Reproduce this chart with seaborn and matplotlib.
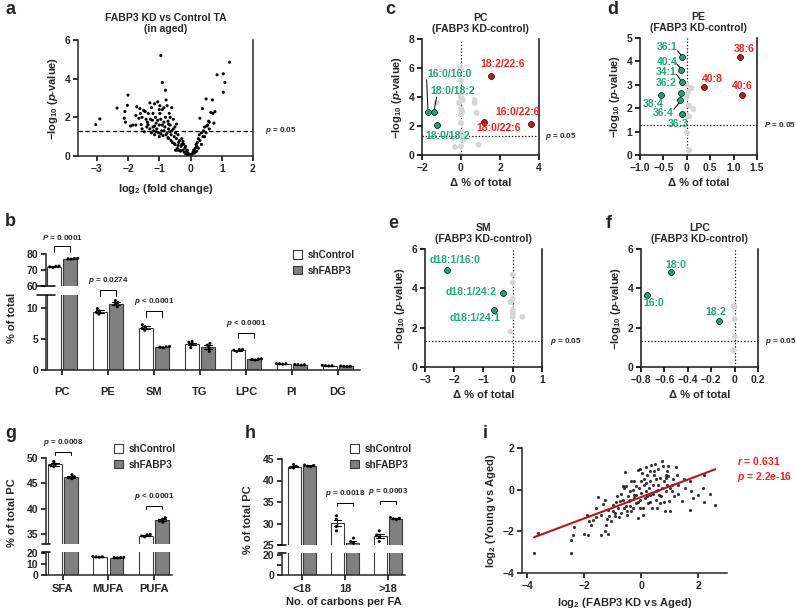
import numpy as np
import pandas as pd
import matplotlib
matplotlib.use("Agg")
import matplotlib.pyplot as plt
from matplotlib.patches import Patch
from matplotlib.ticker import FuncFormatter
import seaborn as sns

W, H = 796, 612

# ── Data ──────────────────────────────────────────────────────────────────
# a: volcano, FABP3 KD vs control TA (log2 fold change, -log10 p)
a_points = [
    (-3.03, 1.62), (-2.9, 1.92), (-2.35, 2.48), (-2.0, 3.15), (-2.02, 2.62), (-2.1, 2.3),
    (-2.12, 1.95), (-2.08, 1.75), (-1.85, 1.6), (-1.75, 2.1), (-1.72, 2.55), (-1.62, 2.45),
    (-1.65, 1.95), (-1.55, 2.0), (-1.58, 1.62), (-1.5, 2.35), (-1.45, 2.3), (-1.42, 1.9),
    (-1.4, 1.5), (-1.36, 1.62), (-1.35, 2.2), (-1.38, 1.75),
    (-1.3, 2.75), (-1.25, 2.5), (-1.22, 1.85), (-1.2, 1.5), (-1.18, 1.3), (-1.15, 1.1),
    (-1.12, 2.0), (-1.1, 1.7), (-1.08, 1.4), (-1.05, 2.8), (-1.02, 1.2), (-1.0, 1.6),
    (-0.98, 2.2), (-0.95, 1.9), (-0.95, 5.2), (-0.9, 3.8), (-0.92, 1.3), (-0.9, 2.4),
    (-0.88, 1.05), (-0.85, 1.75), (-0.82, 1.5), (-0.8, 2.0), (-0.8, 3.4), (-0.78, 2.9),
    (-0.75, 1.2), (-0.75, 2.6), (-0.72, 1.8), (-0.7, 0.9), (-0.7, 1.4), (-0.68, 2.2),
    (-0.65, 1.6), (-0.62, 1.1), (-0.6, 2.5), (-0.6, 1.3), (-0.58, 0.7), (-0.55, 1.9),
    (-0.52, 1.0), (-0.5, 1.5), (-0.5, 0.6), (-0.48, 1.2), (-0.45, 0.9), (-0.42, 0.4),
    (-0.4, 1.1), (-0.38, 0.7), (-0.35, 0.3), (-0.35, 0.8), (-0.3, 0.5), (-0.28, 0.9),
    (-0.25, 0.3), (-0.22, 0.6), (-0.2, 0.2), (-0.18, 0.4), (-0.15, 0.1), (-0.12, 0.25),
    (-0.1, 0.05), (-0.08, 0.15), (-0.05, 0.02), (-0.03, 0.08), (0.0, 0.0),
    (-1.3, 1.4), (-1.28, 1.9), (-1.0, 2.4), (-0.85, 2.5), (-1.15, 1.55), (-0.95, 1.15),
    (-0.65, 2.0), (-0.55, 1.4), (-0.45, 1.65), (-0.4, 0.55), (-1.2, 2.2), (-1.1, 1.25),
    (-1.05, 1.85), (-0.9, 1.6), (-0.85, 1.3), (-0.78, 1.1), (-0.7, 1.65), (-0.66, 1.25),
    (-0.62, 0.8), (-0.52, 0.65), (-0.48, 0.3), (-0.44, 0.3), (-0.38, 0.3), (-0.32, 0.25),
    (-0.28, 0.6), (-0.24, 0.75), (-0.16, 0.5), (-0.1, 0.3), (-1.15, 2.7), (-0.98, 2.6),
    (-1.6, 2.2), (-1.75, 1.6), (-1.92, 1.55), (-1.55, 1.4), (-1.48, 1.25), (-1.25, 1.2),
    (-1.0, 1.0), (-0.72, 0.95),
    (0.02, 0.05), (0.05, 0.1), (0.08, 0.2), (0.1, 0.3), (0.12, 0.15), (0.15, 0.4),
    (0.18, 0.6), (0.2, 0.5), (0.22, 0.7), (0.25, 0.9), (0.28, 1.1), (0.3, 0.8),
    (0.3, 1.95), (0.35, 1.2), (0.38, 2.45), (0.4, 1.0), (0.42, 1.3), (0.45, 1.5),
    (0.5, 2.95), (0.5, 1.2), (0.55, 1.6), (0.58, 1.8), (0.6, 1.4), (0.65, 2.25),
    (0.7, 2.9), (0.72, 2.2), (0.75, 1.7), (0.78, 2.3), (0.85, 4.2), (1.05, 4.25),
    (1.05, 3.3), (1.1, 3.8), (1.25, 4.85), (0.2, 0.25), (0.25, 0.4), (0.35, 0.6),
    (0.45, 1.0), (0.52, 1.55), (0.6, 1.75), (0.15, 0.2),
]
a_fc, a_logp = map(list, zip(*a_points))

# b: lipid classes, % of total (4 replicates per group)
groups = ["shControl", "shFABP3"]
b_classes = ["PC", "PE", "SM", "TG", "LPC", "PI", "DG"]
b_ctrl = [[71.6, 72.0, 72.3, 72.5], [9.0, 9.3, 9.5, 9.9], [6.4, 6.7, 7.0, 7.3],
          [3.6, 4.1, 4.5, 4.6], [3.0, 3.2, 3.3, 3.3], [0.95, 1.0, 1.05, 1.0],
          [0.65, 0.7, 0.75, 0.7]]
b_kd = [[76.8, 77.0, 77.2, 77.3], [10.2, 10.6, 10.9, 11.2], [3.6, 3.7, 3.75, 3.8],
        [3.0, 3.6, 4.0, 4.3], [1.6, 1.7, 1.75, 1.8], [0.8, 0.85, 0.9, 0.85],
        [0.55, 0.6, 0.65, 0.6]]

# c-f: species volcano plots (delta % of total, -log10 p)
c_gray_x = [0, 0, 0, 0.1, -0.1, 0, 0, 0.7, 0.7, 0.8, 0, 0, 0.1, 0, -0.3, 0.9, 0, 0.1, -0.05, 0.05, -1.25]
c_gray_y = [6.0, 5.1, 4.0, 3.8, 3.6, 3.2, 2.8, 3.8, 3.6, 2.9, 2.2, 1.6, 1.05, 0.6, 0.55, 0.7, 0.0, 1.3, 4.2, 3.0, 3.6]
c_dn_x = [-1.68, -1.39, -1.25]
c_dn_y = [3.0, 3.0, 2.05]
c_up_x = [1.52, 1.2, 3.6]
c_up_y = [5.45, 2.25, 2.12]

d_gray_x = [0, 0.1, 0.03, 0, 0.05, 0.14, 0, 0.05, 0, 0.05, -0.05]
d_gray_y = [3.0, 2.86, 2.7, 2.5, 2.1, 1.96, 1.7, 1.65, 0.96, 0.2, 1.78]
d_dn_x = [-0.107, -0.12, -0.11, -0.13, -0.14, -0.55, -0.11]
d_dn_y = [4.19, 3.64, 3.1, 2.67, 2.33, 2.56, 1.76]
d_up_x = [1.14, 0.36, 1.18]
d_up_y = [4.17, 2.89, 2.57]

e_gray_x = [0, 0, -0.08, 0, 0, 0, 0, 0.33, -0.08]
e_gray_y = [4.7, 4.3, 3.3, 3.45, 2.9, 2.7, 2.55, 2.55, 1.8]
e_dn_x = [-2.24, -0.32, -0.64]
e_dn_y = [4.92, 3.76, 2.91]

f_gray_x = [-0.01, 0.0, 0.0, 0.0, -0.01]
f_gray_y = [3.1, 3.05, 2.45, 1.55, 0.85]
f_dn_x = [-0.75, -0.545, -0.13]
f_dn_y = [3.66, 4.81, 2.36]

# g: PC by saturation, h: PC by chain length (% of total PC)
g_classes = ["SFA", "MUFA", "PUFA"]
g_ctrl = [[48.3, 48.5, 48.8, 49.3], [16.3, 16.5, 16.8, 16.6], [34.4, 34.6, 34.8, 34.9]]
g_kd = [[45.9, 46.1, 46.3, 46.7], [15.7, 15.9, 16.1, 16.0], [37.3, 37.5, 37.9, 38.2]]
h_classes = ["<18", "18", ">18"]
h_ctrl = [[42.9, 43.0, 43.3, 43.7], [28.3, 29.3, 31.0, 31.8], [25.8, 26.9, 27.3, 28.3]]
h_kd = [[43.2, 43.3, 43.5, 43.6], [25.5, 25.8, 26.6, 23.7], [30.9, 31.1, 31.2, 31.4]]

# i: correlation of KD vs aged and young vs aged
i_points = [
    (-3.76, -3.04), (-3.61, -2.08), (-2.47, -3.04), (-2.47, -2.4), (-2.41, -2.16),
    (-2.35, -1.81), (-2.0, -2.13), (-1.88, -2.16), (-1.92, -1.2), (-1.85, -1.52),
    (-1.7, -1.44), (-1.76, -1.68), (-1.59, -1.33), (-1.53, -0.37), (-1.41, -2.16),
    (-1.29, -2.0), (-1.24, -1.68), (-1.18, -2.13), (-1.35, -0.69), (-1.29, -0.48),
    (-1.18, -0.96), (-1.12, -1.28), (-1.06, -1.52), (-1.0, -0.72), (-0.94, -1.12),
    (-0.91, -1.28), (-0.86, -0.32), (-0.82, -0.88), (-0.76, -0.56), (-0.71, -1.12),
    (-0.65, -0.48), (-0.61, 0.08), (-0.59, 0.85), (-0.55, -0.8), (-0.51, -1.04),
    (-0.47, -0.32), (-0.44, -0.56), (-0.41, -0.08), (-0.38, -0.8), (-0.35, 0.4),
    (-0.29, -0.88), (-0.27, -0.4), (-0.24, 0.4), (-0.2, -0.64), (-0.18, -0.24),
    (-0.12, 0.96), (-0.12, -1.36), (-0.08, 0.08), (-0.06, -0.48), (-0.04, -0.88),
    (0.0, -0.16), (0.04, 0.8), (0.06, -1.2), (0.08, 0.24), (0.12, -0.4),
    (0.15, -0.08), (0.18, 0.32), (0.2, 0.72), (0.24, -0.64), (0.27, 0.08),
    (0.29, -0.24), (0.32, 0.4), (0.35, 1.2), (0.39, -0.88), (0.41, 0.24),
    (0.44, 0.91), (0.47, 1.23), (0.51, -0.08), (0.53, -0.48), (0.59, 0.24),
    (0.62, -0.24), (0.65, -0.64), (0.67, 0.56), (0.71, 0.08), (0.74, 1.36),
    (0.76, 1.12), (0.79, 0.4), (0.82, -1.04), (0.86, -0.08), (0.88, 0.72),
    (0.91, 0.24), (0.94, 0.64), (0.98, -0.56), (1.0, -1.04), (1.06, 0.24),
    (1.09, -0.08), (1.14, -0.32), (1.24, 0.72), (1.29, 0.24), (1.41, -0.56),
    (1.53, 0.08), (1.71, 0.4), (1.71, -0.96), (1.73, -0.08), (1.82, -0.4),
    (2.0, -0.24), (2.15, 0.08), (2.18, 0.69), (2.2, -0.59), (2.41, -0.21),
    (2.59, -0.72), (-0.53, 0.16),
    (-0.9, -0.6), (-0.7, -0.2), (-0.5, -1.2), (-0.3, 0.0), (-0.1, -0.6), (0.1, 0.5),
    (0.3, 0.9), (0.5, 0.5), (0.7, -0.3), (0.9, 0.9), (1.1, 0.5), (-0.6, -0.9),
    (-0.4, -0.5), (-0.2, 0.2), (0.0, 0.4), (0.2, -0.3), (0.4, -0.2), (0.6, 0.0),
    (0.8, -0.6), (1.0, 0.1), (-1.0, -1.0), (-0.8, -1.3), (-1.4, -1.2), (-1.6, -0.9),
    (-1.2, -1.4), (0.15, 1.1), (0.45, 0.7), (-0.05, 1.0), (0.55, -0.9), (1.3, -0.2),
    (1.5, 0.5), (-0.35, -1.0), (0.05, -0.9), (0.3, -0.6), (0.85, 0.55), (-0.65, 0.2),
    (-0.25, -0.25), (1.2, 1.1), (0.95, 1.15), (0.6, 1.0),
]
i_kd, i_young = map(list, zip(*i_points))

GREEN = "#1ba673"
GREEN_TXT = "#1fa774"
RED = "#c41a1a"
RED_TXT = "#ff1f1f"
GRAY_PT = "#d6d6d6"
BAR_GRAY = "#808080"

# ── Style ─────────────────────────────────────────────────────────────────
sns.set_style("ticks")
plt.rcParams["font.family"] = ["Liberation Sans", "DejaVu Sans"]
plt.rcParams["font.weight"] = "bold"
plt.rcParams["axes.labelweight"] = "bold"
plt.rcParams["mathtext.fontset"] = "custom"
plt.rcParams["mathtext.rm"] = "Liberation Sans:bold"
plt.rcParams["mathtext.it"] = "Liberation Sans:italic:bold"
plt.rcParams["mathtext.bf"] = "Liberation Sans:bold"

FS = 7.5
LFS = 8
SMALL = 5.8
YLAB = r"$-$log$_{10}$ ($p$-value)"


def px_axes(fig, l, t, r, b):
    return fig.add_axes([l / W, 1 - b / H, (r - l) / W, (b - t) / H])


def style(ax, right=False, lw=1.1):
    ax.spines["top"].set_visible(False)
    ax.spines["right"].set_visible(right)
    for s in ax.spines.values():
        s.set_linewidth(lw)
    ax.tick_params(width=lw, length=3.5, labelsize=FS, pad=2, color="black")


def tick_fmt(v, pos):
    if abs(v) < 1e-9:
        return "0"
    s = f"{v:g}" if float(v).is_integer() else f"{v:.1f}"
    return s.replace("-", "\u2212")


def volcano(ax, gx, gy, dx, dy, ux, uy, xlim, ylim, xticks, yticks, title, plabel, px):
    ax.axvline(0, color="black", ls=":", lw=0.9, zorder=1)
    ax.axhline(1.3, color="black", ls=":", lw=0.9, zorder=1)
    sns.scatterplot(x=gx, y=gy, ax=ax, color=GRAY_PT, s=18, edgecolor="none", zorder=2)
    if dx:
        sns.scatterplot(x=dx, y=dy, ax=ax, color=GREEN, s=18, edgecolor="black", linewidth=0.5, zorder=3)
    if ux:
        sns.scatterplot(x=ux, y=uy, ax=ax, color=RED, s=18, edgecolor="black", linewidth=0.5, zorder=3)
    ax.set_xlim(*xlim)
    ax.set_ylim(*ylim)
    ax.set_xticks(xticks)
    ax.set_yticks(yticks)
    ax.xaxis.set_major_formatter(FuncFormatter(tick_fmt))
    ax.yaxis.set_major_formatter(FuncFormatter(tick_fmt))
    style(ax, right=True, lw=1.2)
    ax.set_xlabel("\u0394 % of total", fontsize=LFS, labelpad=4)
    ax.set_ylabel(YLAB, fontsize=LFS, labelpad=3)
    ax.set_title(title, fontsize=FS, fontweight="bold", pad=5, linespacing=1.1)
    ax.text(px, 1.3, plabel, transform=ax.get_yaxis_transform(), fontsize=SMALL,
            va="center", ha="left")


def lab(ax, x, y, s, color, ha="left", va="center"):
    ax.text(x, y, s, color=color, fontsize=FS, fontweight="bold", ha=ha, va=va, zorder=4)


def leader(ax, p0, p1):
    ax.plot([p0[0], p1[0]], [p0[1], p1[1]], color="black", lw=0.7, zorder=2)


def long_df(cats, ctrl, kd):
    rows = []
    for c, a, b in zip(cats, ctrl, kd):
        rows += [(c, groups[0], v) for v in a]
        rows += [(c, groups[1], v) for v in b]
    return pd.DataFrame(rows, columns=["cat", "grp", "val"])


def broken_bars(ax_t, ax_b, df, order, xlim, ylim_t, ylim_b, yt_t, yt_b, yl_b=None, xpad=8):
    for ax in (ax_t, ax_b):
        sns.barplot(data=df, x="cat", y="val", hue="grp", order=order, hue_order=groups,
                    palette=["white", BAR_GRAY], edgecolor="#3a3a3a", linewidth=0.8,
                    width=0.72, gap=0.15, errorbar="se", capsize=0.35,
                    err_kws={"color": "black", "linewidth": 0.8}, legend=False, ax=ax)
        sns.swarmplot(data=df, x="cat", y="val", hue="grp", order=order, hue_order=groups,
                      dodge=True, palette=["black", "black"], size=2.2, legend=False, ax=ax)
        ax.set_xlim(*xlim)
        ax.set_xlabel("")
        ax.set_ylabel("")
        style(ax)
    ax_t.set_ylim(*ylim_t)
    ax_t.set_yticks(yt_t)
    ax_t.spines["bottom"].set_visible(False)
    ax_t.tick_params(axis="x", bottom=False, labelbottom=False)
    ax_b.set_ylim(*ylim_b)
    ax_b.set_yticks(yt_b)
    if yl_b is not None:
        ax_b.set_yticklabels(yl_b)
    ax_b.tick_params(axis="x", pad=xpad, labelsize=LFS)
    # break marks on the y axis
    for ax, yy in ((ax_t, 0), (ax_b, 1)):
        ax.plot([-0.03, 0.03], [yy, yy], transform=ax.transAxes, color="black",
                lw=1.1, clip_on=False)


def bracket(ax, xc, y, drop, text, dx=0.18):
    ax.plot([xc - dx, xc - dx, xc + dx, xc + dx], [y - drop, y, y, y - drop],
            color="black", lw=0.7, clip_on=False)
    ax.annotate(text, (xc, y), xytext=(0, 3), textcoords="offset points", ha="center",
                va="bottom", fontsize=SMALL, annotation_clip=False)


def bar_legend(fig, x, y):
    handles = [Patch(facecolor="white", edgecolor="#3a3a3a", lw=0.8),
               Patch(facecolor=BAR_GRAY, edgecolor="#3a3a3a", lw=0.8)]
    fig.legend(handles, groups, loc="upper left", bbox_to_anchor=(x / W, 1 - y / H),
               frameon=False, fontsize=7.2, handlelength=0.9, handleheight=0.9,
               handletextpad=0.6, labelspacing=0.55, borderpad=0, borderaxespad=0)


fig = plt.figure(figsize=(W / 100, H / 100), dpi=100)

# ── a ─────────────────────────────────────────────────────────────────────
ax = px_axes(fig, 78, 40, 253, 156)
ax.axhline(1.3, color="black", ls=(0, (3.5, 2)), lw=0.9, zorder=1)
sns.scatterplot(x=a_fc, y=a_logp, ax=ax, color="black", s=5, edgecolor="none", zorder=2)
ax.set_xlim(-3.6, 2.0)
ax.set_ylim(0, 6)
ax.set_xticks([-3, -2, -1, 0, 1, 2])
ax.set_yticks([0, 2, 4, 6])
ax.xaxis.set_major_formatter(FuncFormatter(tick_fmt))
style(ax, right=True, lw=1.1)
ax.set_xlabel(r"log$_2$ (fold change)", fontsize=LFS, labelpad=6)
ax.set_ylabel(YLAB, fontsize=LFS, labelpad=3)
ax.set_title("FABP3 KD vs Control TA\n(in aged)", fontsize=FS, fontweight="bold", pad=6,
             linespacing=1.1)
ax.text(1.07, 1.3, r"$p$ = 0.05", transform=ax.get_yaxis_transform(), fontsize=SMALL,
        va="center")

# ── b ─────────────────────────────────────────────────────────────────────
bt = px_axes(fig, 46, 254, 360, 286)
bb = px_axes(fig, 46, 295, 360, 370)
broken_bars(bt, bb, long_df(b_classes, b_ctrl, b_kd), b_classes, (-0.35, 6.48),
            (60, 80), (0, 12.1), [60, 70, 80], [0, 5, 10], xpad=9)
bracket(bt, 0, 85, 3.8, r"$P$ = 0.0001")
bracket(bb, 1, 12.9, 1.0, r"$p$ = 0.0274")
bracket(bb, 2, 9.5, 0.9, r"$p$ < 0.0001")
bracket(bb, 4, 6.0, 0.8, r"$p$ < 0.0001")
bar_legend(fig, 293, 250)
fig.text(12 / W, 1 - 318 / H, "% of total", rotation=90, ha="center", va="center", fontsize=LFS)

# ── c ─────────────────────────────────────────────────────────────────────
ax = px_axes(fig, 422, 39, 539, 155)
volcano(ax, c_gray_x, c_gray_y, c_dn_x, c_dn_y, c_up_x, c_up_y, (-2, 4), (0, 8),
        [-2, 0, 2, 4], [0, 2, 4, 6, 8], "PC\n(FABP3 KD-control)", r"$p$ = 0.05", 1.05)
lab(ax, -1.74, 5.6, "16:0/16:0", GREEN_TXT)
leader(ax, (-1.76, 5.2), (-1.70, 3.2))
lab(ax, -1.59, 4.43, "18:0/18:2", GREEN_TXT)
leader(ax, (-1.25, 4.0), (-1.36, 3.2))
lab(ax, -1.85, 1.31, "18:0/18:2", GREEN_TXT)
lab(ax, 0.97, 6.28, "18:2/22:6", RED_TXT)
lab(ax, 1.74, 2.97, "16:0/22:6", RED_TXT)
lab(ax, 0.8, 1.85, "18:0/22:6", RED_TXT)

# ── d ─────────────────────────────────────────────────────────────────────
ax = px_axes(fig, 640, 38, 757, 155)
volcano(ax, d_gray_x, d_gray_y, d_dn_x, d_dn_y, d_up_x, d_up_y, (-1.0, 1.5), (0, 5),
        [-1.0, -0.5, 0, 0.5, 1.0, 1.5], [0, 1, 2, 3, 4, 5], "PE\n(FABP3 KD-control)",
        r"$P$ = 0.05", 1.06)
ax.xaxis.set_major_formatter(FuncFormatter(
    lambda v, p: "0" if abs(v) < 1e-9 else f"{v:.1f}".replace("-", "\u2212")))
lab(ax, -0.19, 4.63, "36:1", GREEN_TXT, ha="right")
leader(ax, (-0.2, 4.45), (-0.12, 4.27))
lab(ax, -0.19, 3.99, "40:4", GREEN_TXT, ha="right")
leader(ax, (-0.22, 3.9), (-0.13, 3.7))
lab(ax, -0.21, 3.56, "34:1", GREEN_TXT, ha="right")
leader(ax, (-0.22, 3.45), (-0.12, 3.16))
lab(ax, -0.21, 3.09, "36:2", GREEN_TXT, ha="right")
lab(ax, -0.5, 2.18, "38:4", GREEN_TXT, ha="right")
lab(ax, -0.29, 1.79, "36:4", GREEN_TXT, ha="right")
leader(ax, (-0.28, 1.95), (-0.15, 2.26))
lab(ax, -0.18, 1.32, "36:3", GREEN_TXT, ha="center")
lab(ax, 1.23, 4.53, "38:6", RED_TXT, ha="center")
lab(ax, 0.55, 3.24, "40:8", RED_TXT, ha="center")
lab(ax, 1.18, 2.95, "40:6", RED_TXT, ha="center")

# ── e ─────────────────────────────────────────────────────────────────────
ax = px_axes(fig, 425, 249, 542, 367)
volcano(ax, e_gray_x, e_gray_y, e_dn_x, e_dn_y, [], [], (-3, 1), (0, 6),
        [-3, -2, -1, 0, 1], [0, 2, 4, 6], "SM\n(FABP3 KD-control)", r"$p$ = 0.05", 1.07)
lab(ax, -2.83, 5.44, "d18:1/16:0", GREEN_TXT)
lab(ax, -0.54, 3.83, "d18:1/24:2", GREEN_TXT, ha="right")
lab(ax, -1.29, 2.49, "d18:1/24:1", GREEN_TXT, ha="center")

# ── f ─────────────────────────────────────────────────────────────────────
ax = px_axes(fig, 641, 249, 758, 367)
volcano(ax, f_gray_x, f_gray_y, f_dn_x, f_dn_y, [], [], (-0.8, 0.2), (0, 6),
        [-0.8, -0.6, -0.4, -0.2, 0, 0.2], [0, 2, 4, 6], "LPC\n(FABP3 KD-control)",
        r"$p$ = 0.05", 1.06)
lab(ax, -0.5, 5.19, "18:0", GREEN_TXT, ha="center")
lab(ax, -0.69, 3.25, "16:0", GREEN_TXT, ha="center")
lab(ax, -0.16, 2.81, "18:2", GREEN_TXT, ha="center")

# ── g ─────────────────────────────────────────────────────────────────────
gt = px_axes(fig, 46, 458, 172, 544)
gb = px_axes(fig, 46, 552, 172, 575)
broken_bars(gt, gb, long_df(g_classes, g_ctrl, g_kd), g_classes, (-0.37, 2.4),
            (33, 50), (0, 21), [35, 40, 45, 50], [0, 10, 20], xpad=3)
bracket(gt, 0, 51.1, 0.5, r"$p$ = 0.0008")
bracket(gt, 2, 40.5, 0.65, r"$p$ < 0.0001")
bar_legend(fig, 114, 444)
fig.text(12 / W, 1 - 513 / H, "% of total PC", rotation=90, ha="center", va="center", fontsize=LFS)

# ── h ─────────────────────────────────────────────────────────────────────
ht = px_axes(fig, 282, 459, 405, 545)
hb = px_axes(fig, 282, 553, 405, 575)
broken_bars(ht, hb, long_df(h_classes, h_ctrl, h_kd), h_classes, (-0.47, 2.4),
            (25, 45), (0, 22), [25, 30, 35, 40, 45], [0, 10, 20], ["0", "", "20"], xpad=3)
bracket(ht, 1, 34.8, 0.7, r"$p$ = 0.0018")
bracket(ht, 2, 35.3, 0.8, r"$p$ = 0.0003")
bar_legend(fig, 350, 444)
hb.set_xlabel("No. of carbons per FA", fontsize=LFS, labelpad=2)
fig.text(248 / W, 1 - 520 / H, "% of total PC", rotation=90, ha="center", va="center", fontsize=LFS)

# ── i ─────────────────────────────────────────────────────────────────────
ax = px_axes(fig, 522, 448, 727, 573)
sns.regplot(x=i_kd, y=i_young, ax=ax, ci=None, color="black",
            scatter_kws={"s": 5, "linewidths": 0},
            line_kws={"color": "#c0141b", "lw": 1.5})
ax.set_xlim(-4.18, 3.0)
ax.set_ylim(-4, 2)
ax.set_xticks([-4, -2, 0, 2])
ax.set_yticks([-4, -2, 0, 2])
ax.xaxis.set_major_formatter(FuncFormatter(tick_fmt))
ax.yaxis.set_major_formatter(FuncFormatter(tick_fmt))
style(ax, lw=1.1)
ax.set_xlabel(r"log$_2$ (FABP3 KD vs Aged)", fontsize=LFS, labelpad=4)
ax.set_ylabel(r"log$_2$ (Young vs Aged)", fontsize=LFS, labelpad=3)
ax.text(1.05, 0.895, r"$r$ = 0.631", transform=ax.transAxes, color=RED_TXT, fontsize=FS, va="center")
ax.text(1.05, 0.765, r"$p$ = 2.2e-16", transform=ax.transAxes, color=RED_TXT, fontsize=FS, va="center")

# ── panel letters ─────────────────────────────────────────────────────────
for letter, x, y in [("a", 5, 10), ("b", 5, 222), ("c", 385, 9), ("d", 607, 9),
                     ("e", 388, 223), ("f", 606, 223), ("g", 5, 434), ("h", 245, 434),
                     ("i", 483, 434)]:
    fig.text(x / W, 1 - y / H, letter, fontsize=13, fontweight="bold", va="center", ha="left")

fig.savefig("out.png", dpi=100)
